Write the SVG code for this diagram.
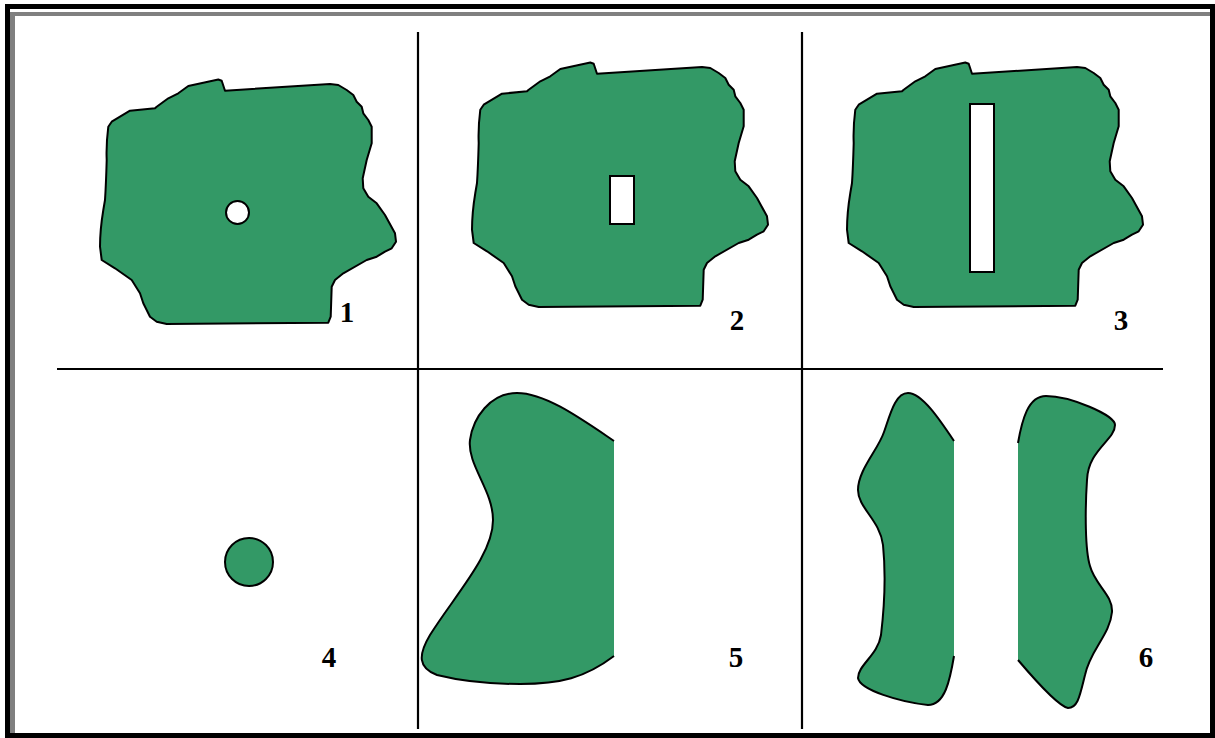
<svg xmlns="http://www.w3.org/2000/svg" xmlns:xlink="http://www.w3.org/1999/xlink" width="1215" height="738" viewBox="0 0 1215 738">
<style>
.g{fill:#339966;stroke:#000;stroke-width:2;stroke-linejoin:round}
.f{fill:#339966;stroke:none}
.o{fill:none;stroke:#000;stroke-width:2;stroke-linejoin:round}
.h{fill:#fff;stroke:#000;stroke-width:2}
.ln{stroke:#000;stroke-width:2.2}
.lb{font-family:"Liberation Serif","Times New Roman",serif;font-weight:bold;font-size:29px;text-anchor:middle;fill:#000}
</style>
<defs>
<path id="blob" d="M225,90.7 L221.7,80.7 L218.3,79.5 L188.3,86 L178.3,93.3 L168.3,98.3 L156.7,106.7 L155,108.3 L130,110.7 L111.7,121.7 L108.3,126.7 Q106,145 106.7,160 Q106,185 105,200 L103.3,210 Q100,230 100,246.7 L101.7,260 L115,268.3 L131.7,280 L140,293.3 L143.3,303.3 L150,316.7 L156.7,321.7 L166.7,324 L328.3,322.7 L330.7,316.7 L331.7,286.7 L335,280 L343.3,273.3 L366.7,260 L376.7,256.7 L385,251.7 L391.7,248.3 L396,241.7 L395,233.3 L385,215 L376.7,203.3 L368.3,196.7 L363.3,188.3 L362.7,178.3 L366.7,160 L371.7,143.3 L371.7,126.7 L368.3,120 L363.3,113.3 L361.7,106.7 L356.7,101.7 L353.3,95 L346.7,90 L338.3,85 L330,84 Z"/>
</defs>
<rect x="0" y="0" width="1215" height="738" fill="#fff"/>
<g id="frame">
<rect x="7.5" y="6.5" width="1205" height="729" fill="none" stroke="#000" stroke-width="5"/>
<rect x="10" y="12" width="1200" height="4" fill="#808080"/>
<rect x="10" y="12" width="5" height="721" fill="#808080"/>
</g>
<g id="connectors">
<line class="ln" x1="418" y1="32" x2="418" y2="729"/>
<line class="ln" x1="802" y1="32" x2="802" y2="729"/>
<line class="ln" x1="57" y1="369" x2="1163" y2="369"/>
</g>
<g id="node1">
<use xlink:href="#blob" class="g"/>
<circle class="h" cx="237.5" cy="212.5" r="11.5"/>
<text class="lb" x="347" y="322">1</text>
</g>
<g id="node2">
<use xlink:href="#blob" class="g" transform="translate(372,-17)"/>
<rect class="h" x="610" y="176" width="24" height="48"/>
<text class="lb" x="737" y="330">2</text>
</g>
<g id="node3">
<use xlink:href="#blob" class="g" transform="translate(747,-17)"/>
<rect class="h" x="970" y="104" width="24" height="168"/>
<text class="lb" x="1121" y="330">3</text>
</g>
<g id="node4">
<circle class="g" cx="249" cy="562" r="24"/>
<text class="lb" x="329" y="667">4</text>
</g>
<g id="node5">
<path class="f" d="M614,441 C580,418 545,393 517,393 C490,393 473,418 470,440 C467,465 493,490 493,520 C493,555 455,595 430,635 C418,655 418,668 437,675 C465,682 495,684 520,684 C560,684 585,678 614,656 Z"/>
<path class="o" d="M614,441 C580,418 545,393 517,393 C490,393 473,418 470,440 C467,465 493,490 493,520 C493,555 455,595 430,635 C418,655 418,668 437,675 C465,682 495,684 520,684 C560,684 585,678 614,656"/>
<text class="lb" x="736" y="667">5</text>
</g>
<g id="node6">
<path class="f" d="M954,441 C940,420 922,393 908,393 C895,393 890,415 884,432 C878,450 858,470 858,490 C858,508 880,520 883,545 C886,575 884,610 881,635 C878,655 858,665 858,678 C860,690 900,702 928,705 C945,705 950,680 954,656 Z"/>
<path class="o" d="M954,441 C940,420 922,393 908,393 C895,393 890,415 884,432 C878,450 858,470 858,490 C858,508 880,520 883,545 C886,575 884,610 881,635 C878,655 858,665 858,678 C860,690 900,702 928,705 C945,705 950,680 954,656"/>
<path class="f" d="M1018,443 C1022,420 1028,396 1046,396 C1070,396 1115,415 1115,425 C1115,440 1088,450 1087,480 C1085,510 1085,550 1090,566 C1095,585 1113,595 1112,612 C1110,635 1090,650 1085,675 C1080,695 1078,708 1068,708 C1058,706 1035,680 1018,660 Z"/>
<path class="o" d="M1018,443 C1022,420 1028,396 1046,396 C1070,396 1115,415 1115,425 C1115,440 1088,450 1087,480 C1085,510 1085,550 1090,566 C1095,585 1113,595 1112,612 C1110,635 1090,650 1085,675 C1080,695 1078,708 1068,708 C1058,706 1035,680 1018,660"/>
<text class="lb" x="1146" y="667">6</text>
</g>
</svg>
